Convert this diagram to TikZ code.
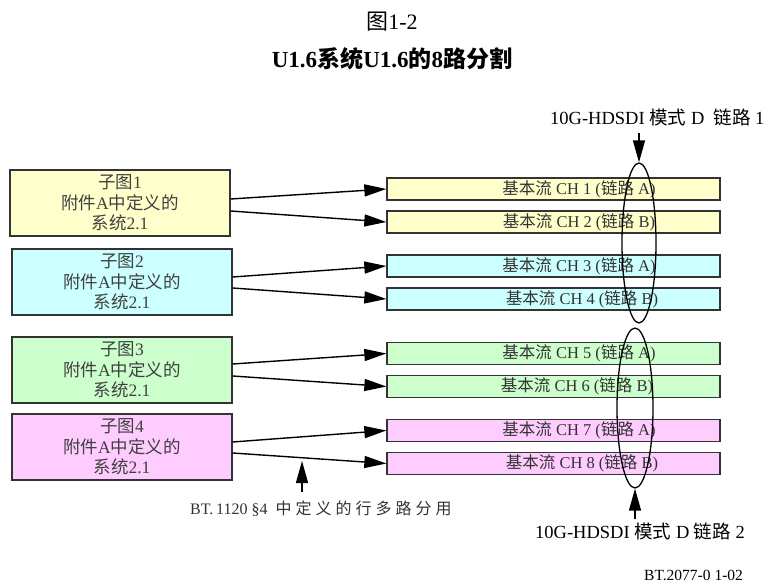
\documentclass[tikz,border=0pt]{standalone}
\usepackage{fontspec}
\setmainfont{Liberation Serif}
\newfontfamily\cjk{Noto Sans CJK SC}
\usetikzlibrary{arrows.meta,shapes.geometric}
\definecolor{cyel}{HTML}{FFFFCC}
\definecolor{ccyan}{HTML}{CCFFFF}
\definecolor{cgreen}{HTML}{CCFFCC}
\definecolor{cpink}{HTML}{FFCCFF}
\definecolor{edge}{HTML}{333333}
\begin{document}
\begin{tikzpicture}[x=1pt,y=-1pt,
  srcbox/.style={draw=edge,line width=1.3pt,minimum width=220pt,minimum height=66pt,inner sep=0pt,align=center,font=\fontsize{17.5}{20.5}\selectfont,text=black!75},
  chbox/.style={draw=edge,line width=1.3pt,minimum width=333pt,minimum height=22pt,inner sep=0pt},
  chtext/.style={font=\fontsize{16.5}{18}\selectfont,text=black!80,inner sep=0pt},
  conn/.style={line width=1.4pt,-{Triangle[length=22pt,width=12pt]}},
  lbl/.style={font=\fontsize{18.5}{20}\selectfont,inner sep=0pt}]
\useasboundingbox (0,0) rectangle (774,585);
\fill[white] (0,0) rectangle (774,585);

\node[font=\fontsize{22}{24}\selectfont] (fig) at (392,22) {{\cjk 图}1-2};
\node[font=\fontsize{23}{25}\selectfont\bfseries] (title) at (392,59) {U1.6{\cjk\bfseries 系统}U1.6{\cjk\bfseries 的}8{\cjk\bfseries 路分割}};

% source boxes
\node[srcbox,fill=cyel] (s1) at (120,203) {{\cjk 子图}1\\{\cjk 附件}A{\cjk 中定义的}\\{\cjk 系统}2.1};
\node[srcbox,fill=ccyan] (s2) at (122,282) {{\cjk 子图}2\\{\cjk 附件}A{\cjk 中定义的}\\{\cjk 系统}2.1};
\node[srcbox,fill=cgreen] (s3) at (122,370) {{\cjk 子图}3\\{\cjk 附件}A{\cjk 中定义的}\\{\cjk 系统}2.1};
\node[srcbox,fill=cpink] (s4) at (122,447) {{\cjk 子图}4\\{\cjk 附件}A{\cjk 中定义的}\\{\cjk 系统}2.1};

% channel boxes
\node[chbox,fill=cyel] (c1) at (553.5,189) {};
\node[chbox,fill=cyel] (c2) at (553.5,222) {};
\node[chbox,fill=ccyan] (c3) at (553.5,266) {};
\node[chbox,fill=ccyan] (c4) at (553.5,299) {};
\node[chbox,fill=cgreen] (c5) at (553.5,353.5) {};
\node[chbox,fill=cgreen] (c6) at (553.5,386.5) {};
\node[chbox,fill=cpink] (c7) at (553.5,430.5) {};
\node[chbox,fill=cpink] (c8) at (553.5,463.5) {};

\node[chtext] (t1) at (579,189) {{\cjk 基本流} CH 1 ({\cjk 链路} A)};
\node[chtext] (t2) at (579,222) {{\cjk 基本流} CH 2 ({\cjk 链路} B)};
\node[chtext] (t3) at (579,266) {{\cjk 基本流} CH 3 ({\cjk 链路} A)};
\node[chtext] (t4) at (582,299) {{\cjk 基本流} CH 4 ({\cjk 链路} B)};
\node[chtext] (t5) at (579,353.5) {{\cjk 基本流} CH 5 ({\cjk 链路} A)};
\node[chtext] (t6) at (577,386.5) {{\cjk 基本流} CH 6 ({\cjk 链路} B)};
\node[chtext] (t7) at (579,430.5) {{\cjk 基本流} CH 7 ({\cjk 链路} A)};
\node[chtext] (t8) at (582,463.5) {{\cjk 基本流} CH 8 ({\cjk 链路} B)};

% connectors
\draw[conn] ([yshift=4pt]s1.east) -- (c1.west);
\draw[conn] ([yshift=-8pt]s1.east) -- (c2.west);
\draw[conn] ([yshift=5pt]s2.east) -- (c3.west);
\draw[conn] ([yshift=-6pt]s2.east) -- (c4.west);
\draw[conn] ([yshift=6pt]s3.east) -- (c5.west);
\draw[conn] ([yshift=-6pt]s3.east) -- (c6.west);
\draw[conn] ([yshift=5pt]s4.east) -- (c7.west);
\draw[conn] ([yshift=-6pt]s4.east) -- (c8.west);

% ellipses
\node[ellipse,draw=black,line width=1.3pt,minimum width=34pt,minimum height=160pt,inner sep=0pt] (e1) at (639,243) {};
\node[ellipse,draw=black,line width=1.3pt,minimum width=36pt,minimum height=160pt,inner sep=0pt] (e2) at (635,408) {};

\node[lbl,anchor=west] (l1) at (550,117) {10G-HDSDI {\cjk 模式} D\ \ {\cjk 链路} 1};
\coordinate (a1) at (639,133);
\draw[conn] (a1) -- (e1.north);

\begin{scope}
\clip (0,500) rectangle (752,560);
\node[lbl,anchor=west] (l2) at (535,531) {10G-HDSDI {\cjk 模式} D {\cjk 链路} 2};
\end{scope}
\coordinate (a2) at (635,519);
\draw[conn] (a2) -- (e2.south);

\node[font=\fontsize{16}{18}\selectfont,anchor=west,inner sep=0pt,text=black!80] (l3) at (190,509) {BT.\,1120 \S4\ \ {\cjk 中\hspace{4pt}定\hspace{4pt}义\hspace{4pt}的\hspace{4pt}行\hspace{4pt}多\hspace{4pt}路\hspace{4pt}分\hspace{4pt}用}};
\coordinate (a3) at (302,492);
\coordinate (a3e) at (302,461);
\draw[conn] (a3) -- (a3e);

\node[font=\fontsize{15.5}{17}\selectfont,anchor=west,inner sep=0pt] (foot) at (644,575) {BT.2077-0 1-02};
\end{tikzpicture}
\end{document}
